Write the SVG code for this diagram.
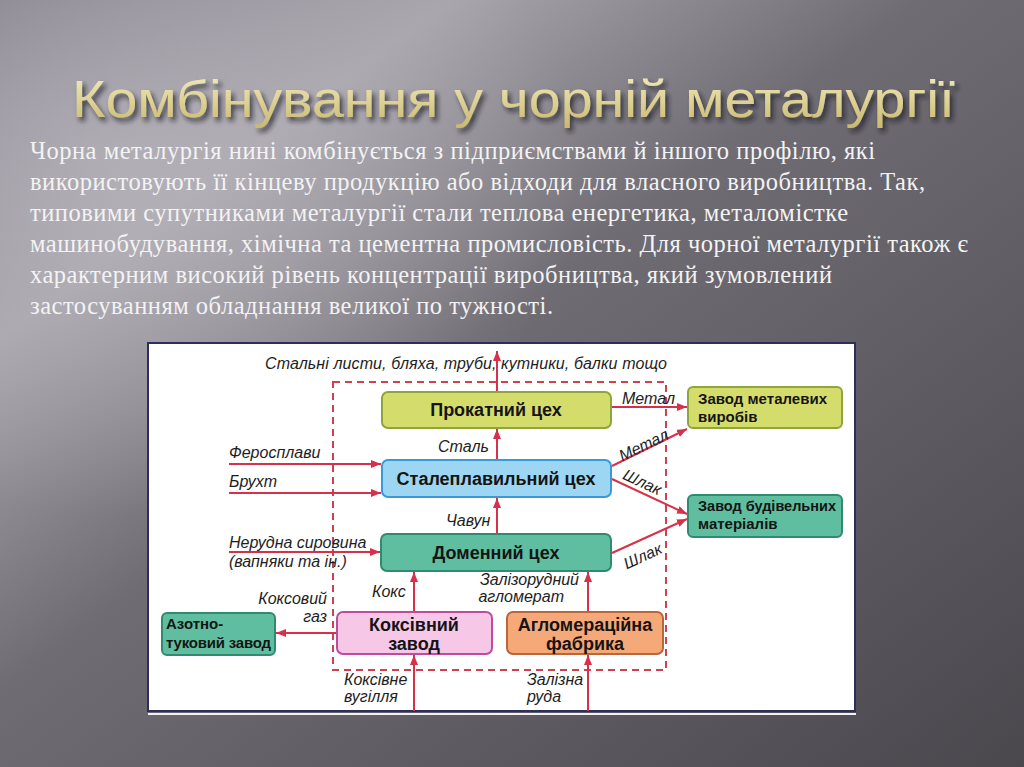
<svg xmlns="http://www.w3.org/2000/svg" width="1024" height="767" viewBox="0 0 1024 767">
<defs>
  <linearGradient id="bg" x1="0" y1="0" x2="1" y2="1">
    <stop offset="0" stop-color="#807c86"/>
    <stop offset="0.22" stop-color="#a7a4ac"/>
    <stop offset="0.45" stop-color="#6f6c74"/>
    <stop offset="1" stop-color="#4a474d"/>
  </linearGradient>
  <radialGradient id="glow" cx="0.12" cy="0.22" r="0.45">
    <stop offset="0" stop-color="#b9b6be" stop-opacity="0.7"/>
    <stop offset="1" stop-color="#b9b6be" stop-opacity="0"/>
  </radialGradient>
  <linearGradient id="gold" x1="0" y1="0" x2="0" y2="1">
    <stop offset="0" stop-color="#f4edc0"/>
    <stop offset="1" stop-color="#c9b96e"/>
  </linearGradient>
  <filter id="shadow" x="-5%" y="-30%" width="110%" height="160%">
    <feDropShadow dx="3" dy="4" stdDeviation="2.5" flood-color="#1e1c20" flood-opacity="0.75"/>
  </filter>
  <marker id="ah" viewBox="0 0 10 8" refX="10" refY="4" markerWidth="10" markerHeight="8" markerUnits="userSpaceOnUse" orient="auto">
    <path d="M0,0 L10,4 L0,8 z" fill="#d7304a"/>
  </marker>
  <style>
    .body{font-family:"Liberation Serif","Times New Roman",serif;font-size:24.5px;fill:#f3f3f3}
    .lbl{font-family:"Liberation Sans",Arial,sans-serif;font-size:16px;font-style:italic;fill:#1e1e1e}
    .bt{font-family:"Liberation Sans",Arial,sans-serif;font-size:18px;font-weight:bold;fill:#141414;text-anchor:middle}
    .st{font-family:"Liberation Sans",Arial,sans-serif;font-size:15px;font-weight:bold;fill:#141414}
    .ar{stroke:#d7304a;stroke-width:2;fill:none;marker-end:url(#ah)}
    .yg{fill:#d4dd6c;stroke:#8ea43c;stroke-width:2}
    .bl{fill:#9dd6f2;stroke:#3a9ad6;stroke-width:2}
    .tl{fill:#5fbe9f;stroke:#2f8a70;stroke-width:2}
    .pk{fill:#f6c7e7;stroke:#c04b9a;stroke-width:2}
    .or{fill:#f5a878;stroke:#b8663a;stroke-width:2}
  </style>
</defs>
<rect x="0" y="0" width="1024" height="767" fill="url(#bg)"/>
<rect x="0" y="0" width="1024" height="767" fill="url(#glow)"/>

<g id="title">
  <text x="72" y="117" font-family="Liberation Sans, Arial, sans-serif" font-size="52" fill="url(#gold)" filter="url(#shadow)" textLength="883" lengthAdjust="spacingAndGlyphs">Комбінування у чорній металургії</text>
</g>

<g id="paragraph">
  <text class="body" x="30" y="159" textLength="845">Чорна металургія нині комбінується з підприємствами й іншого профілю, які</text>
  <text class="body" x="30" y="190" textLength="895">використовують її кінцеву продукцію або відходи для власного виробництва. Так,</text>
  <text class="body" x="30" y="221" textLength="818">типовими супутниками металургії стали теплова енергетика, металомістке</text>
  <text class="body" x="30" y="252" textLength="938">машинобудування, хімічна та цементна промисловість. Для чорної металургії також є</text>
  <text class="body" x="30" y="283" textLength="802">характерним високий рівень концентрації виробництва, який зумовлений</text>
  <text class="body" x="30" y="314" textLength="523">застосуванням обладнання великої по тужності.</text>
</g>

<g id="frame">
  <rect x="148" y="343" width="707" height="368" fill="#ffffff" stroke="#2e2e5e" stroke-width="2"/>
  <line x1="148" y1="714" x2="856" y2="714" stroke="#f2f2f2" stroke-width="2"/>
  <rect x="333" y="382" width="333" height="288" fill="none" stroke="#d04050" stroke-width="2" stroke-dasharray="7,5"/>
</g>

<g id="connectors">
  <line class="ar" x1="497" y1="391" x2="497" y2="351"/>
  <line class="ar" x1="497" y1="460" x2="497" y2="429"/>
  <line class="ar" x1="497" y1="534" x2="497" y2="498"/>
  <line class="ar" x1="414" y1="612" x2="414" y2="572"/>
  <line class="ar" x1="588" y1="612" x2="588" y2="572"/>
  <line class="ar" x1="414" y1="711" x2="414" y2="655"/>
  <line class="ar" x1="588" y1="711" x2="588" y2="655"/>
  <line class="ar" x1="337" y1="633" x2="276" y2="633"/>
  <line class="ar" x1="229" y1="464" x2="381" y2="464"/>
  <line class="ar" x1="229" y1="493" x2="381" y2="493"/>
  <line class="ar" x1="229" y1="552" x2="380" y2="552"/>
  <line class="ar" x1="611" y1="407" x2="687" y2="407"/>
  <line class="ar" x1="612" y1="466" x2="687" y2="429"/>
  <line class="ar" x1="612" y1="479" x2="687" y2="514"/>
  <line class="ar" x1="612" y1="553" x2="687" y2="519"/>
</g>

<g id="labels">
  <text class="lbl" x="265" y="369" textLength="402">Стальні листи, бляха, труби, кутники, балки тощо</text>
  <text class="lbl" x="438" y="452">Сталь</text>
  <text class="lbl" x="446" y="526">Чавун</text>
  <text class="lbl" x="229" y="458">Феросплави</text>
  <text class="lbl" x="229" y="487">Брухт</text>
  <text class="lbl" x="229" y="548">Нерудна сировина</text>
  <text class="lbl" x="229" y="567">(вапняки та ін.)</text>
  <text class="lbl" x="372" y="597">Кокс</text>
  <text class="lbl" x="327" y="604" text-anchor="end">Коксовий</text>
  <text class="lbl" x="327" y="622" text-anchor="end">газ</text>
  <text class="lbl" x="344" y="685">Коксівне</text>
  <text class="lbl" x="344" y="702">вугілля</text>
  <text class="lbl" x="579" y="585" text-anchor="end">Залізорудний</text>
  <text class="lbl" x="564" y="602" text-anchor="end">агломерат</text>
  <text class="lbl" x="527" y="685">Залізна</text>
  <text class="lbl" x="527" y="702">руда</text>
  <text class="lbl" x="622" y="404">Метал</text>
  <text class="lbl" x="0" y="0" text-anchor="middle" transform="translate(646,450) rotate(-26)">Метал</text>
  <text class="lbl" x="0" y="0" text-anchor="middle" transform="translate(640,487) rotate(25)">Шлак</text>
  <text class="lbl" x="0" y="0" text-anchor="middle" transform="translate(645,561) rotate(-25)">Шлак</text>
</g>

<g id="prokatnyi">
  <rect class="yg" x="382" y="392" width="229" height="36" rx="6"/>
  <text class="bt" x="496" y="416">Прокатний цех</text>
</g>
<g id="staleplavylnyi">
  <rect class="bl" x="382" y="460" width="229" height="37" rx="6"/>
  <text class="bt" x="496" y="485">Сталеплавильний цех</text>
</g>
<g id="domennyi">
  <rect class="tl" x="381" y="534" width="230" height="37" rx="6"/>
  <text class="bt" x="496" y="559">Доменний цех</text>
</g>
<g id="koksivnyi">
  <rect class="pk" x="337" y="612" width="155" height="42" rx="6"/>
  <text class="bt" x="414" y="631">Коксівний</text>
  <text class="bt" x="414" y="650">завод</text>
</g>
<g id="ahlomeratsiina">
  <rect class="or" x="507" y="612" width="156" height="42" rx="6"/>
  <text class="bt" x="585" y="631">Агломераційна</text>
  <text class="bt" x="585" y="650">фабрика</text>
</g>
<g id="azotno">
  <rect class="tl" x="162" y="613" width="113" height="42" rx="5"/>
  <text class="st" x="166" y="629">Азотно-</text>
  <text class="st" x="166" y="648" textLength="105">туковий завод</text>
</g>
<g id="metalevykh">
  <rect class="yg" x="688" y="387" width="154" height="41" rx="5"/>
  <text class="st" x="698" y="404" textLength="129">Завод металевих</text>
  <text class="st" x="698" y="422">виробів</text>
</g>
<g id="budivelnykh">
  <rect class="tl" x="688" y="495" width="154" height="42" rx="5"/>
  <text class="st" x="698" y="511" textLength="138" lengthAdjust="spacingAndGlyphs">Завод будівельних</text>
  <text class="st" x="698" y="529">матеріалів</text>
</g>
</svg>
